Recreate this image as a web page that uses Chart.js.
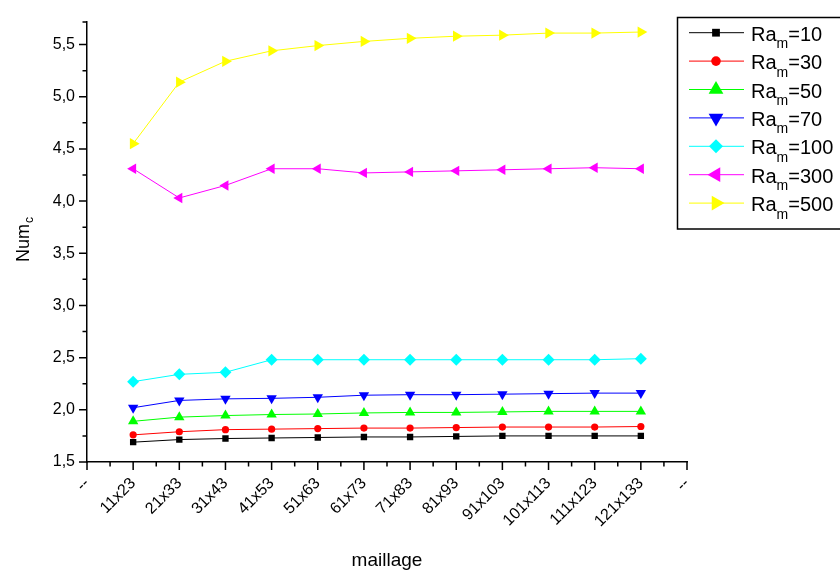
<!DOCTYPE html>
<html>
<head>
<meta charset="utf-8">
<script src="https://cdn.jsdelivr.net/npm/chart.js@4.4.1/dist/chart.umd.min.js"></script>
<style>
html,body{margin:0;padding:0;background:#fff;}
#wrap{width:840px;height:575px;position:relative;}
</style>
</head>
<body>
<div id="wrap"><canvas id="c" width="840" height="575"></canvas></div>
<script>
// ---- data ----
const categories = ["11x23","21x33","31x43","41x53","51x63","61x73","71x83","81x93","91x103","101x113","111x123","121x133"];
const endLabel = "--";
const ra10  = [1.69,1.715,1.725,1.73,1.735,1.74,1.74,1.745,1.75,1.75,1.75,1.75];
const ra30  = [1.76,1.79,1.81,1.815,1.82,1.825,1.825,1.83,1.835,1.835,1.835,1.84];
const ra50  = [1.89,1.93,1.945,1.955,1.96,1.97,1.975,1.975,1.98,1.985,1.985,1.985];
const ra70  = [2.02,2.09,2.105,2.11,2.12,2.14,2.145,2.145,2.15,2.155,2.16,2.16];
const ra100 = [2.27,2.34,2.36,2.48,2.48,2.48,2.48,2.48,2.48,2.48,2.48,2.49];
const ra300 = [4.31,4.03,4.15,4.31,4.31,4.27,4.28,4.29,4.30,4.31,4.32,4.31];
const ra500 = [4.55,5.14,5.34,5.44,5.49,5.53,5.56,5.58,5.59,5.61,5.61,5.62];
const raValues = ["10","30","50","70","100","300","500"];
const yTickValues = [1.5,2.0,2.5,3.0,3.5,4.0,4.5,5.0,5.5];
const yMin = 1.5, yMax = 5.72;
const xTitle = "maillage";
const yTitleMain = "Num", yTitleSub = "c";
const legendMain = "Ra", legendSub = "m";

// ---- styles ----
const FONT = "'Liberation Sans', Arial, sans-serif";
const seriesData = [ra10, ra30, ra50, ra70, ra100, ra300, ra500];
const colors = ["#000000","#FF0000","#00FF00","#0000FF","#00FFFF","#FF00FF","#FFFF00"];
const pStyles = ["rect","circle","triangle","triangle","rectRot","triangle","triangle"];
const pRot = [0,0,0,180,0,-90,90];
const pRad = [4.5,3.6,6,6,6,6,6.5];
const legRad = [5.5,4.8,8.5,8.5,7,8.5,8.5];

const xLabels = [endLabel, ...categories, endLabel];
const pad = arr => [null, ...arr, null];

const datasets = seriesData.map((d,i)=>({
  label: legendMain + legendSub + "=" + raValues[i],
  data: pad(d),
  borderColor: colors[i],
  backgroundColor: colors[i],
  borderWidth: 1,
  pointStyle: pStyles[i],
  pointRotation: pRot[i],
  pointRadius: pRad[i],
  pointBorderWidth: 0,
  pointHoverRadius: pRad[i],
  tension: 0,
  spanGaps: false
}));

function drawMarker(ctx, style, rot, r, x, y, color){
  ctx.save();
  ctx.fillStyle = color;
  ctx.translate(x,y);
  ctx.rotate(rot*Math.PI/180);
  ctx.beginPath();
  if(style==="rect"){ const s=r*Math.SQRT1_2; ctx.rect(-s,-s,2*s,2*s); }
  else if(style==="circle"){ ctx.arc(0,0,r,0,Math.PI*2); }
  else if(style==="rectRot"){ ctx.moveTo(0,-r); ctx.lineTo(r,0); ctx.lineTo(0,r); ctx.lineTo(-r,0); ctx.closePath(); }
  else { for(let k=0;k<3;k++){ const a=k*2*Math.PI/3; const px=Math.sin(a)*r, py=-Math.cos(a)*r; if(k===0)ctx.moveTo(px,py); else ctx.lineTo(px,py);} ctx.closePath(); }
  ctx.fill();
  ctx.restore();
}

const decor = {
  id: 'decor',
  afterDraw(chart){
    const ctx = chart.ctx;
    const xs = chart.scales.x, ys = chart.scales.y;
    const area = chart.chartArea;
    ctx.save();
    ctx.strokeStyle = "#000";
    ctx.lineWidth = 1.5;
    // y ticks
    ctx.beginPath();
    yTickValues.forEach(v=>{ const p = ys.getPixelForValue(v); ctx.moveTo(area.left-8, p); ctx.lineTo(area.left, p); });
    for(let i=0;i<yTickValues.length-1;i++){ const v=(yTickValues[i]+yTickValues[i+1])/2; const p=ys.getPixelForValue(v); ctx.moveTo(area.left-4.5,p); ctx.lineTo(area.left,p); }
    const pt = ys.getPixelForValue(yMax); ctx.moveTo(area.left-4.5, pt+0.5); ctx.lineTo(area.left, pt+0.5);
    // x ticks
    for(let i=0;i<xLabels.length;i++){ const p=xs.getPixelForValue(i); ctx.moveTo(p, area.bottom); ctx.lineTo(p, area.bottom+8); }
    for(let i=0;i<xLabels.length-1;i++){ const p=(xs.getPixelForValue(i)+xs.getPixelForValue(i+1))/2; ctx.moveTo(p, area.bottom); ctx.lineTo(p, area.bottom+4.5); }
    ctx.stroke();

    ctx.fillStyle = "#000";
    // x title
    ctx.font = "19px " + FONT;
    ctx.textAlign = "center";
    ctx.textBaseline = "alphabetic";
    ctx.fillText(xTitle, (area.left+area.right)/2, 566);

    // y title (rotated)
    ctx.save();
    ctx.translate(29, 262);
    ctx.rotate(-Math.PI/2);
    ctx.font = "18px " + FONT;
    ctx.textAlign = "left";
    ctx.fillText(yTitleMain, 0, 0);
    const w = ctx.measureText(yTitleMain).width;
    ctx.font = "12px " + FONT;
    ctx.fillText(yTitleSub, w+1, 4);
    ctx.restore();

    // legend
    const lx = 677.5, ly = 17.5;
    ctx.lineWidth = 1.5;
    ctx.strokeStyle = "#000";
    ctx.strokeRect(lx, ly, 170, 211.5);
    for(let i=0;i<raValues.length;i++){
      const cy = 32.7 + i*28.4;
      ctx.beginPath();
      ctx.lineWidth = 1;
      ctx.strokeStyle = colors[i];
      ctx.moveTo(689, cy); ctx.lineTo(744, cy);
      ctx.stroke();
      drawMarker(ctx, pStyles[i], pRot[i], legRad[i], 716, cy, colors[i]);
      ctx.fillStyle = "#000";
      ctx.textAlign = "left";
      ctx.font = "20px " + FONT;
      let tx = 751;
      const base = cy + 8;
      ctx.fillText(legendMain, tx, base);
      tx += ctx.measureText(legendMain).width;
      ctx.font = "14px " + FONT;
      ctx.fillText(legendSub, tx, base + 7.5);
      tx += ctx.measureText(legendSub).width;
      ctx.font = "20px " + FONT;
      ctx.fillText("=" + raValues[i], tx, base);
    }
    ctx.restore();
  }
};

new Chart(document.getElementById('c'), {
  type: 'line',
  data: { labels: xLabels, datasets },
  options: {
    responsive: false,
    animation: false,
    devicePixelRatio: 1,
    layout: { padding: { top: 20, right: 153, left: 0, bottom: 0 } },
    plugins: { legend: { display: false }, tooltip: { enabled: false } },
    scales: {
      x: {
        type: 'category',
        offset: false,
        grid: { display: false, drawTicks: false },
        border: { display: true, color: '#000', width: 1.5 },
        ticks: { autoSkip: false, minRotation: 45, maxRotation: 45, padding: 12, color: '#000', font: { family: FONT, size: 16 } },
        afterFit(s){ s.height = 113; }
      },
      y: {
        type: 'linear',
        min: yMin, max: yMax,
        grid: { display: false, drawTicks: false },
        border: { display: true, color: '#000', width: 1.5 },
        afterBuildTicks(s){ s.ticks = yTickValues.map(v=>({value:v})); },
        ticks: { padding: 12, color: '#000', font: { family: FONT, size: 16 },
          callback: v => Number(v).toFixed(1).replace('.', ',') },
        afterFit(s){ s.width = 87; }
      }
    }
  },
  plugins: [decor]
});
</script>
</body>
</html>
